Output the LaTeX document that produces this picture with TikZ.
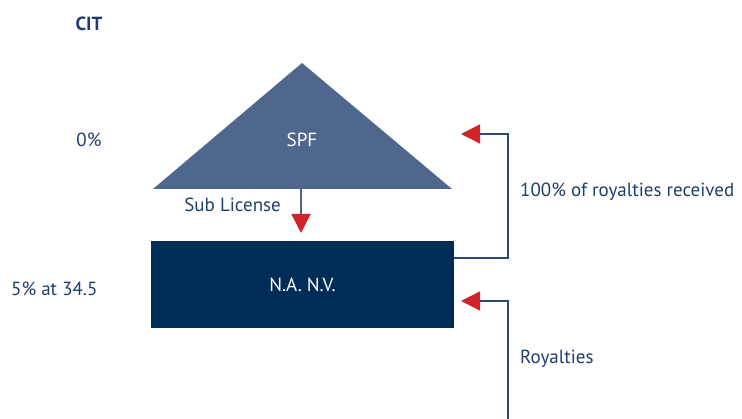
\documentclass[tikz,border=0pt]{standalone}
\usepackage{fontspec}
\setmainfont{PT Sans}
\usetikzlibrary{arrows.meta}
\definecolor{txtblue}{HTML}{1F3F6A}
\definecolor{triblue}{HTML}{50678D}
\definecolor{boxblue}{HTML}{002D57}
\definecolor{arrred}{HTML}{D2232A}
\definecolor{lineblue}{HTML}{2A4A74}
\tikzset{
  fnt/.style={font=\fontsize{19}{22}\selectfont},
  lbl/.style={text=txtblue, fnt, inner sep=0pt},
  conn/.style={draw=lineblue, line width=1.4pt, -{Triangle[width=19pt,length=19pt,color=arrred]}},
}
\begin{document}
\begin{tikzpicture}[x=1pt,y=-1pt]
\useasboundingbox (0,0) rectangle (742,419);
% triangle
\fill[triblue] (302,63) -- (452,189) -- (153,189) -- cycle;
\node[text=white, fnt] (spf) at (302,140) {SPF};
\coordinate (spfbase) at (301,189);
% box
\node[fill=boxblue, minimum width=303pt, minimum height=87pt, inner sep=0pt, text=white, fnt] (nanv) at (302.5,284.5) {N.A. N.V.};
% sub license
\coordinate (sltip) at (301,233);
\draw[conn, draw=triblue] (spfbase) -- (sltip);
\coordinate (c1a) at (454,258);
\coordinate (c1b) at (508,134);
\coordinate (c1t) at (461,134);
\draw[conn] (c1a) -| (c1b) -- (c1t);
\coordinate (c2a) at (508,419);
\coordinate (c2b) at (508,301);
\coordinate (c2t) at (461,301);
\draw[conn] (c2a) -- (c2b) -- (c2t);
% labels
\node[lbl, font=\bfseries\fontsize{19}{22}\selectfont] (cit) at (89,24) {CIT};
\node[lbl] (zero) at (89,140) {0\%};
\node[lbl, anchor=west] (five) at (11,289) {5\% at 34.5};
\node[lbl, anchor=east] (sub) at (281,205) {Sub License};
\node[lbl, anchor=west] (hund) at (520,192) {100\% of royalties received};
\node[lbl, anchor=west] (roy) at (520,359) {Royalties};
\end{tikzpicture}
\end{document}
